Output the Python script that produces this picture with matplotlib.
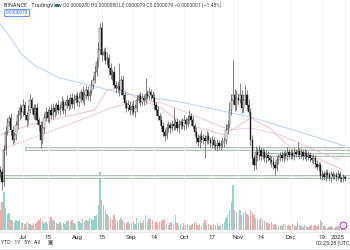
import numpy as np
import matplotlib
matplotlib.use("Agg")
import matplotlib.pyplot as plt
from matplotlib.lines import Line2D

# daily candles, Jun 18 -> Jan 1 (price in 1e-7 units, open = previous close)
first_open = 80
close = [78, 68, 100, 118, 128, 132, 120, 110, 115, 125,
         135, 142, 138, 145, 135, 130, 140, 150, 142, 135,
         142, 130, 125, 110, 122, 132, 138, 132, 140, 135,
         142, 138, 145, 140, 142, 148, 140, 145, 150, 144,
         152, 146, 150, 154, 148, 152, 158, 150, 155, 160,
         154, 158, 165, 170, 178, 188, 200, 222, 195, 198,
         190, 192, 182, 175, 178, 165, 162, 164, 160, 170,
         155, 147, 142, 145, 140, 144, 138, 142, 150, 154,
         148, 152, 150, 156, 154, 158, 155, 152, 145, 140,
         134, 130, 124, 118, 114, 122, 125, 122, 126, 124,
         128, 122, 125, 128, 124, 130, 126, 131, 134, 130,
         124, 118, 112, 108, 114, 110, 112, 109, 114, 110,
         107, 110, 105, 104, 107, 104, 106, 108, 110, 120,
         125, 140, 150, 155, 145, 152, 150, 155, 142, 150,
         155, 145, 138, 110, 92, 85, 98, 95, 100, 94,
         98, 92, 95, 92, 90, 88, 85, 82, 90, 93,
         95, 92, 96, 94, 98, 95, 97, 94, 98, 96,
         99, 95, 98, 94, 97, 93, 95, 92, 90, 92,
         86, 83, 85, 74, 76, 73, 77, 75, 72, 76,
         74, 75, 73, 76, 72, 71, 73, 72]

up_wick = [4, 3, 5, 6, 4, 3, 5, 4, 3, 4,
           5, 4, 3, 6, 4, 3, 5, 6, 3, 4,
           4, 5, 3, 4, 6, 4, 5, 3, 4, 6,
           5, 4, 3, 5, 4, 6, 3, 4, 5, 3,
           4, 5, 6, 3, 4, 5, 3, 6, 4, 5,
           4, 3, 5, 4, 6, 5, 8, 5, 6, 4,
           5, 6, 4, 5, 3, 6, 4, 5, 23, 4,
           5, 4, 3, 5, 4, 3, 6, 4, 5, 3,
           4, 5, 3, 16, 4, 5, 3, 4, 5, 3,
           4, 3, 5, 4, 3, 5, 4, 3, 4, 16,
           3, 4, 5, 3, 4, 5, 3, 4, 6, 3,
           4, 3, 5, 4, 3, 6, 4, 3, 5, 4,
           3, 4, 3, 5, 4, 3, 4, 5, 3, 6,
           5, 8, 6, 35, 6, 8, 5, 12, 5, 6,
           10, 5, 6, 4, 5, 3, 6, 4, 5, 3,
           4, 3, 5, 4, 3, 4, 5, 3, 4, 3,
           3, 4, 3, 4, 5, 3, 4, 3, 4, 3,
           9, 3, 4, 3, 4, 3, 4, 3, 3, 4,
           3, 4, 3, 3, 4, 3, 3, 4, 3, 3,
           3, 2, 3, 4, 3, 2, 3, 2]

dn_wick = [5, 8, 4, 5, 3, 4, 5, 4, 3, 5,
           4, 5, 6, 4, 5, 6, 4, 3, 5, 4,
           5, 4, 6, 8, 4, 5, 3, 4, 5, 4,
           4, 5, 3, 4, 5, 3, 4, 5, 3, 4,
           3, 4, 5, 3, 4, 5, 4, 3, 5, 4,
           4, 5, 3, 4, 3, 4, 5, 4, 6, 5,
           4, 5, 6, 4, 5, 3, 5, 4, 6, 5,
           4, 5, 4, 3, 5, 4, 3, 5, 4, 3,
           4, 3, 5, 4, 3, 4, 5, 3, 4, 5,
           4, 5, 3, 4, 5, 3, 4, 5, 3, 4,
           4, 3, 5, 4, 3, 4, 5, 3, 4, 5,
           3, 4, 5, 4, 6, 3, 4, 17, 3, 4,
           4, 5, 3, 4, 5, 3, 4, 3, 5, 4,
           4, 3, 5, 4, 6, 5, 4, 3, 5, 4,
           4, 5, 3, 5, 6, 5, 4, 6, 5, 4,
           3, 4, 5, 3, 4, 5, 4, 7, 3, 4,
           4, 3, 4, 3, 4, 3, 4, 3, 4, 3,
           3, 4, 3, 4, 3, 4, 3, 4, 3, 4,
           4, 3, 4, 3, 4, 3, 4, 3, 3, 4,
           3, 3, 4, 3, 4, 3, 3, 3]

volume = [20, 28, 38, 22, 15, 17, 10, 9, 8, 10,
          9, 10, 8, 7, 6, 8, 7, 6, 5, 7,
          6, 8, 10, 12, 9, 7, 8, 6, 9, 13,
          10, 9, 7, 6, 8, 5, 7, 6, 9, 10,
          8, 10, 7, 6, 8, 9, 7, 11, 8, 10,
          9, 12, 11, 10, 14, 15, 25, 58, 30, 25,
          20, 16, 14, 12, 10, 15, 11, 9, 10, 12,
          10, 8, 7, 8, 6, 7, 9, 6, 12, 8,
          9, 7, 10, 15, 9, 11, 12, 10, 9, 8,
          7, 8, 9, 10, 11, 6, 5, 7, 8, 6,
          15, 7, 5, 6, 4, 7, 5, 6, 4, 5,
          6, 8, 7, 5, 6, 4, 7, 10, 5, 6,
          5, 4, 6, 5, 7, 4, 5, 6, 8, 12,
          15, 20, 28, 45, 20, 18, 17, 20, 15, 17,
          18, 16, 14, 20, 18, 15, 12, 11, 10, 12,
          10, 9, 8, 7, 6, 8, 5, 6, 5, 4,
          5, 4, 6, 5, 4, 5, 4, 6, 5, 4,
          8, 5, 4, 3, 5, 4, 3, 4, 5, 4,
          5, 4, 6, 10, 8, 4, 3, 2, 3, 4,
          3, 2, 3, 4, 3, 2, 3, 2]

# moving averages (day index, value)
ma_long_x = [0, 6, 12, 20, 34, 53, 69, 103, 143, 171, 197]
ma_long = [226, 212, 196, 184, 172, 164, 157, 148, 133, 118, 104]
ma_mid_x = [0, 23, 46, 63, 80, 92, 103, 131, 143, 160, 177, 194]
ma_mid = [100, 115, 130, 142, 150, 147, 140, 120, 122, 115, 102, 90]
ma_fast_x = [0, 17, 34, 54, 61, 68, 80, 91, 103, 114, 128, 137, 143, 154, 166, 177, 196]
ma_fast = [115, 125, 132, 140, 160, 162, 150, 143, 128, 122, 115, 125, 132, 122, 102, 95, 80]

# drawn horizontal zones (start day, low, high)
zones = [(14, 100, 103), (148, 94, 97), (-1, 72, 75)]

tick_pos = [13, 27, 44, 58, 75, 88, 105, 121, 136, 149, 166, 184, 197]
tick_lab = ["Jul", "15", "Aug", "15", "Sep", "14", "Oct", "17", "Nov", "14", "Dec", "19", "2025"]

close = np.array(close, dtype=float)
opens = np.concatenate([[first_open], close[:-1]])
hi = np.maximum(opens, close) + np.array(up_wick)
lo = np.minimum(opens, close) - np.array(dn_wick)
x = np.arange(len(close))
rise = close >= opens

plt.rcParams['font.family'] = ['Roboto', 'DejaVu Sans']

fig = plt.figure(figsize=(3.5, 2.5), dpi=100)
ax = fig.add_axes([0, 18 / 250, 1, 232 / 250])
axv = ax.twinx()
ax.set_zorder(axv.get_zorder() + 1)
ax.patch.set_visible(False)

# volume
vcol = np.where(rise, '#94d3cb', '#f6a9a6')
axv.bar(x, volume, width=0.8, color=vcol, linewidth=0)
axv.set_ylim(-2, 230)
axv.set_yticks([])

# zones
for start, zlo, zhi in zones:
    ax.fill_between([start, 201], zlo, zhi, facecolor='#eaf0eb', edgecolor='#a3b8a8', linewidth=0.6, zorder=1)

# moving averages
ax.plot(ma_long_x, ma_long, color='#9cc6f2', lw=0.6, alpha=0.85, zorder=2)
ax.plot(ma_mid_x, ma_mid, color='#eab3d8', lw=0.6, alpha=0.8, zorder=2)
ax.plot(ma_fast_x, ma_fast, color='#f5aaa4', lw=0.6, alpha=0.8, zorder=2)

# candles
ax.vlines(x, lo, hi, color='#555555', lw=0.5, zorder=3)
body_lo = np.minimum(opens, close)
body_h = np.maximum(np.abs(close - opens), 0.6)
ax.bar(x, body_h, bottom=body_lo, width=0.7, color=np.where(rise, 'white', '#1e1e1e'),
       edgecolor='#222222', linewidth=0.3, zorder=4)

ax.set_xlim(-0.2, 199.9)
ax.set_ylim(18, 250)
ax.set_yticks([])
ax.set_xticks(tick_pos, tick_lab)
ax.tick_params(axis='x', length=0, pad=2, labelsize=4.5, labelcolor='#333333')
ax.get_xticklabels()[-1].set_horizontalalignment('right')
ax.grid(axis='x', color='#f0f3fa', lw=0.5)
for a in (ax, axv):
    for s in a.spines.values():
        s.set_visible(False)

# header legend
fig.text(0.003, 1 - 5 / 250, "· BINANCE · TradingView", fontsize=4, color='#333333', va='center')
fig.add_artist(Line2D([57 / 350], [1 - 5 / 250], marker='o', ms=2.5, color='#22ab94', mec='none',
                      transform=fig.transFigure))
fig.text(63 / 350, 1 - 5 / 250, "O0.0000080 H0.0000080 L0.0000079 C0.0000079 −0.0000001 (−1.48%)",
         fontsize=3.6, color='#444444', va='center')
fig.text(6 / 350, 1 - 13 / 250, "0.0000079", fontsize=3.4, color='#2962ff', va='center',
         bbox=dict(boxstyle='round,pad=0.25', fc='white', ec='#2962ff', lw=0.5))

# bottom bar
fig.add_artist(Line2D([0, 1], [1 - 232 / 250] * 2, color='#e0e3eb', lw=0.5, transform=fig.transFigure))
fig.add_artist(Line2D([0, 1], [1 - 249 / 250] * 2, color='#e0e3eb', lw=0.8, transform=fig.transFigure))
fig.text(1 / 350, 1 - 243 / 250, "YTD   1Y   5Y   All", fontsize=3.8, color='#333333', va='center')
fig.text(50 / 350, 1 - 243 / 250, "▣", fontsize=4, color='#555555', va='center', ha='center')
fig.text(349 / 350, 1 - 243 / 250, "02:25:28 (UTC", fontsize=3.8, color='#333333', va='center', ha='right')
fig.add_artist(Line2D([343 / 350], [1 - 225 / 250], marker='o', ms=5, mfc='#f3e5f5', mec='#9c27b0',
                      mew=0.6, transform=fig.transFigure))

fig.savefig("out.png", dpi=100, facecolor='white')
